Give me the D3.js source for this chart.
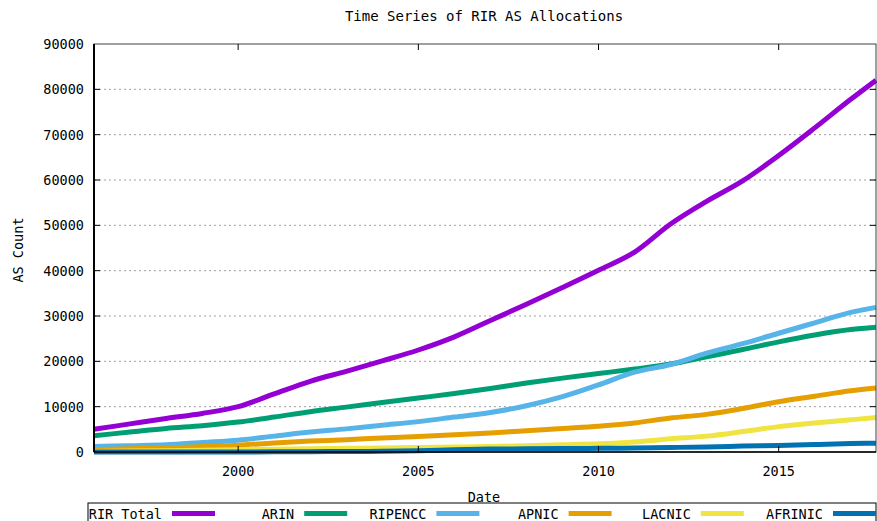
<!DOCTYPE html>
<html>
<head>
<meta charset="utf-8">
<script src="https://cdn.jsdelivr.net/npm/d3@7"></script>
<style>
  body { margin: 0; background: #fff; }
  text { font-family: "DejaVu Sans Mono", monospace; fill: #000; }
</style>
</head>
<body>
<div class="canvas"></div>
<script>
// data (AS count by year)
const years = [1996, 1997, 1998, 1999, 2000, 2001, 2002, 2003, 2004, 2005, 2006,
  2007, 2008, 2009, 2010, 2011, 2012, 2013, 2014, 2015, 2016, 2017, 2017.7]

const rirTotal = [5000, 6200, 7400, 8500, 10000, 12800, 15600, 17800, 20100, 22500, 25400,
  29000, 32600, 36300, 40100, 44100, 50300, 55300, 59800, 65400, 71500, 77800, 82000]
const arin = [3600, 4400, 5200, 5800, 6600, 7700, 8900, 9900, 10900, 11900, 12900,
  14000, 15200, 16300, 17300, 18300, 19400, 21000, 22600, 24300, 25800, 27000, 27500]
const ripencc = [1200, 1400, 1600, 2100, 2600, 3500, 4400, 5100, 5900, 6700, 7700,
  8700, 10200, 12200, 14800, 17600, 19300, 21800, 23900, 26200, 28500, 30800, 31900]
const apnic = [500, 700, 900, 1200, 1500, 2000, 2400, 2700, 3100, 3400, 3800,
  4200, 4700, 5200, 5700, 6400, 7500, 8300, 9600, 11100, 12300, 13500, 14100]
const lacnic = [100, 200, 300, 400, 500, 600, 700, 800, 900, 1000, 1100,
  1200, 1400, 1600, 1800, 2200, 2900, 3500, 4500, 5600, 6400, 7100, 7600]
const afrinic = [0, 0, 0, 0, 0, 50, 80, 100, 150, 250, 500,
  650, 700, 750, 800, 900, 1000, 1100, 1300, 1450, 1650, 1850, 1950]

const seriesNames = ['RIR Total', 'ARIN', 'RIPENCC', 'APNIC', 'LACNIC', 'AFRINIC']
const seriesValues = [rirTotal, arin, ripencc, apnic, lacnic, afrinic]
const colors = ['#9400d3', '#009e73', '#56b4e9', '#e69f00', '#f0e442', '#0072b2']

const yTicks = [0, 10000, 20000, 30000, 40000, 50000, 60000, 70000, 80000, 90000]
const xTicks = [2000, 2005, 2010, 2015]

// dimension
const width = 877, height = 521
const plot = { left: 94, right: 876, top: 44, bottom: 452 }

const svg = d3.select('.canvas')
  .append('svg')
  .attr('width', width)
  .attr('height', height)

const x = d3.scaleLinear().domain([1996, 2017.7]).range([plot.left, plot.right])
const y = d3.scaleLinear().domain([0, 90000]).range([plot.bottom, plot.top])

// grid
svg.append('g')
  .selectAll('line')
  .data(yTicks.slice(1, -1))
  .join('line')
    .attr('x1', plot.left).attr('x2', plot.right)
    .attr('y1', d => y(d)).attr('y2', d => y(d))
    .attr('stroke', '#a0a0a0')
    .attr('stroke-width', 1)
    .attr('stroke-dasharray', '2,3')

// series
const line = d3.line()
  .x((d, i) => x(years[i]))
  .y(d => y(d))
  .curve(d3.curveMonotoneX)

svg.append('g')
  .selectAll('path')
  .data(seriesValues)
  .join('path')
    .attr('d', line)
    .attr('fill', 'none')
    .attr('stroke', (d, i) => colors[i])
    .attr('stroke-width', 5)
    .attr('stroke-linejoin', 'round')

// frame
svg.append('rect')
  .attr('x', plot.left).attr('y', plot.top)
  .attr('width', plot.right - plot.left).attr('height', plot.bottom - plot.top)
  .attr('fill', 'none')
  .attr('stroke', '#404040')
  .attr('stroke-width', 1)
svg.append('line')
  .attr('x1', plot.left).attr('x2', plot.left)
  .attr('y1', plot.top).attr('y2', plot.bottom)
  .attr('stroke', '#000').attr('stroke-width', 2)
svg.append('line')
  .attr('x1', plot.left).attr('x2', plot.right)
  .attr('y1', plot.bottom).attr('y2', plot.bottom)
  .attr('stroke', '#000').attr('stroke-width', 1.5)

// ticks (inward, both sides)
const tickG = svg.append('g').attr('stroke', '#000').attr('stroke-width', 1)
yTicks.slice(1, -1).forEach(v => {
  tickG.append('line').attr('x1', plot.left).attr('x2', plot.left + 6).attr('y1', y(v)).attr('y2', y(v))
  tickG.append('line').attr('x1', plot.right - 6).attr('x2', plot.right).attr('y1', y(v)).attr('y2', y(v))
})
xTicks.forEach(v => {
  tickG.append('line').attr('x1', x(v)).attr('x2', x(v)).attr('y1', plot.bottom).attr('y2', plot.bottom - 6)
  tickG.append('line').attr('x1', x(v)).attr('x2', x(v)).attr('y1', plot.top).attr('y2', plot.top + 6)
})

// tick labels
svg.append('g')
  .selectAll('text')
  .data(yTicks)
  .join('text')
    .attr('x', plot.left - 10)
    .attr('y', d => y(d) + 5)
    .attr('text-anchor', 'end')
    .style('font-size', '13.5px')
    .text(d => d)

svg.append('g')
  .selectAll('text')
  .data(xTicks)
  .join('text')
    .attr('x', d => x(d))
    .attr('y', 476)
    .attr('text-anchor', 'middle')
    .style('font-size', '13.5px')
    .text(d => d)

// titles
svg.append('text')
  .attr('x', 484).attr('y', 21)
  .attr('text-anchor', 'middle')
  .style('font-size', '14px')
  .text('Time Series of RIR AS Allocations')

svg.append('text')
  .attr('x', 484).attr('y', 502)
  .attr('text-anchor', 'middle')
  .style('font-size', '13.5px')
  .text('Date')

svg.append('text')
  .attr('transform', 'translate(23, 250) rotate(-90)')
  .attr('text-anchor', 'middle')
  .style('font-size', '13.5px')
  .text('AS Count')

// legend
const legendG = svg.append('g')
legendG.append('rect')
  .attr('x', 88).attr('y', 503)
  .attr('width', 788).attr('height', 30)
  .attr('fill', 'none')
  .attr('stroke', '#000')
  .attr('stroke-width', 1)

const entries = legendG.selectAll('g.entry')
  .data(seriesNames)
  .join('g')
    .attr('class', 'entry')
    .attr('transform', (d, i) => `translate(${162 + i * 132.2}, 0)`)

entries.append('text')
  .attr('x', 0).attr('y', 519)
  .attr('text-anchor', 'end')
  .style('font-size', '13.5px')
  .text(d => d)

entries.append('line')
  .attr('x1', 10).attr('x2', 53)
  .attr('y1', 513.5).attr('y2', 513.5)
  .attr('stroke', (d, i) => colors[i])
  .attr('stroke-width', 5)
</script>
</body>
</html>
